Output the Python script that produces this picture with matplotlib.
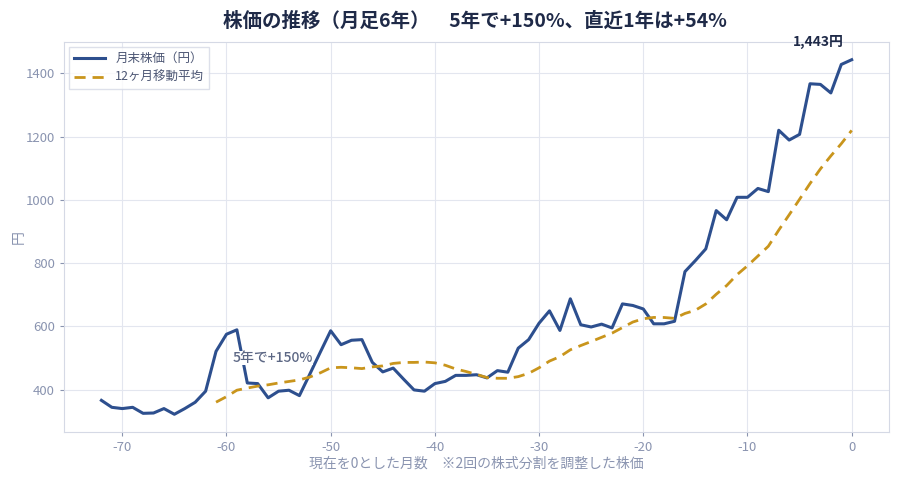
import pandas as pd
import matplotlib
matplotlib.use('Agg')
import matplotlib.pyplot as plt

plt.rcParams['font.family'] = ['Noto Sans CJK JP', 'DejaVu Sans']
plt.rcParams['axes.unicode_minus'] = False

# months relative to now (0 = current month)
months = list(range(-72, 1))
# month-end price (yen), split-adjusted
prices = [366, 344, 340, 344, 325, 326, 340, 322, 340, 360,
          395, 521, 575, 589, 421, 419, 374, 395, 398, 381,
          449, 518, 586, 542, 556, 558, 486, 456, 468, 433,
          399, 395, 419, 426, 445, 445, 447, 437, 460, 455,
          531, 558, 610, 649, 587, 687, 605, 598, 607, 595,
          671, 666, 655, 608, 608, 616, 773, 808, 845, 966,
          937, 1008, 1008, 1036, 1026, 1220, 1189, 1207, 1367, 1365,
          1338, 1428, 1443]

df = pd.DataFrame({'month': months, 'price': prices})
df['ma12'] = df['price'].rolling(12).mean()

navy = '#1f2a48'
tick_col = '#8a94b0'
blue = '#2d4f8e'
gold = '#c9951c'

fig = plt.figure(figsize=(9, 4.8), dpi=100)
ax = fig.add_axes([0.071, 0.1, 0.917, 0.8125])

ax.plot(df['month'], df['price'], color=blue, lw=2.2, label='月末株価（円）')
ax.plot(df['month'], df['ma12'], color=gold, lw=2.0, ls=(0, (4, 2.5)), label='12ヶ月移動平均')

ax.set_yticks([400, 600, 800, 1000, 1200, 1400])
ax.set_xticks([-70, -60, -50, -40, -30, -20, -10, 0])
ax.grid(True, color='#e3e6ef', lw=0.8)
ax.set_axisbelow(True)
for s in ax.spines.values():
    s.set_color('#d5d9e5')
ax.tick_params(colors=tick_col, labelsize=9.5, length=3)
ax.tick_params(axis='both', labelcolor=tick_col)

ax.set_xlabel('現在を0とした月数　※2回の株式分割を調整した株価', color=tick_col, fontsize=10, labelpad=2)
ax.set_ylabel('円', color=tick_col, fontsize=10, labelpad=0)

fig.suptitle('株価の推移（月足6年）　5年で+150%、直近1年は+54%', x=0.528, y=0.975,
             fontsize=14, fontweight='bold', color=navy)

last = df.iloc[-1]
ax.annotate(f"{int(last['price']):,}円", (last['month'], last['price']),
            xytext=(-6, 8), textcoords='offset points', ha='right', va='bottom',
            fontsize=10, fontweight='bold', color=navy)
ax.text(-59.4, 500, '5年で+150%', fontsize=10, fontweight='medium', color='#5d6885',
        va='center', zorder=5, bbox=dict(facecolor='white', edgecolor='none', pad=0.2))

leg = ax.legend(loc='upper left', fontsize=9, frameon=True, fancybox=False, handlelength=2.5,
                borderaxespad=0.4)
leg.get_frame().set_edgecolor('#d5d9e5')
for t in leg.get_texts():
    t.set_color('#4b5573')

fig.savefig('out.png', dpi=100)
